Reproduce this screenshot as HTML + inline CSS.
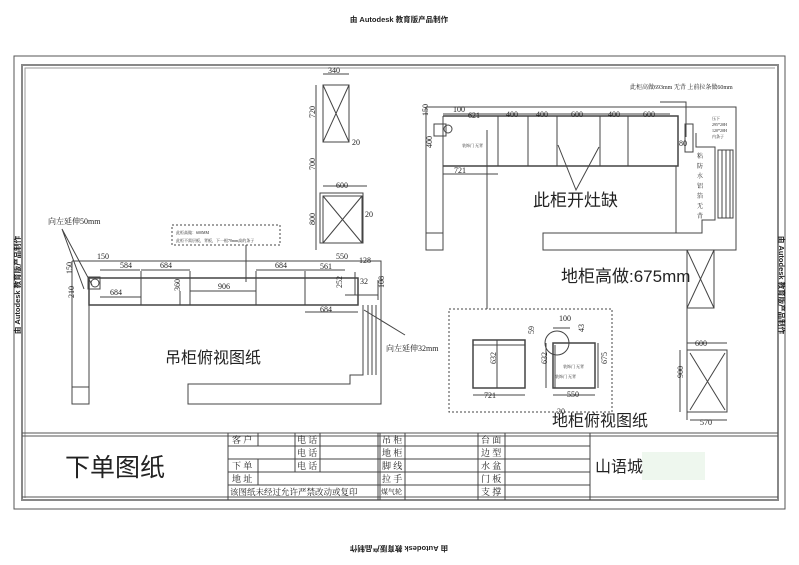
<!DOCTYPE html>
<html><head><meta charset="utf-8"><style>
html,body{margin:0;padding:0;background:#fff}
svg{display:block}
text{font-family:"Liberation Serif","Noto Serif CJK SC",serif;fill:#222}
.s{font-family:"Liberation Sans","Noto Sans CJK SC",sans-serif}
</style></head><body>
<svg width="799" height="565" viewBox="0 0 799 565" xmlns="http://www.w3.org/2000/svg">
<g fill="none" stroke="#444" stroke-width="1">
<path d="M14 509 V56 H785 V509 Z" stroke="#555"/>
<path d="M22 500 V65 H778 V500 Z" stroke="#888" stroke-width="2"/>
<path d="M25 498 V68 H775" stroke="#999"/>
<path d="M22 433 H778 M22 436 H778 M22 497 H778" stroke="#555"/>
<path d="M228 433 V500 M380 433 V500 M378 433 V500 M590 433 V500"/>
<path d="M228 446 H590 M228 459 H590 M228 472 H590 M228 485 H590"/>
<path d="M258 433 V446 M258 459 V485 M295 433 V472 M320 433 V472 M405 433 V500 M478 433 V500 M505 433 V500"/>
</g>
<rect x="642" y="452" width="63" height="28" fill="#eef7ee"/>
<g fill="none" stroke="#444" stroke-width="1">
<rect x="323" y="85" width="26" height="57"/><path d="M323 85 L349 142 M349 85 L323 142"/>
<path d="M316 85 V250 M323 74 H349"/>
<rect x="320" y="193" width="43" height="50"/><rect x="323" y="196" width="39" height="47"/><path d="M323 196 L362 243 M362 196 L323 243"/>
<path d="M323 186 H367"/>
<path d="M72 261 H381 V404 H188 V384 H350 V375 H363 V305 M72 261 V404 H89 V305 M72 387 H89"/>
<path d="M89 278 H358 V305 H89 Z" stroke-width="1.5"/>
<path d="M141 271 V305 M190 271 V305 M256 271 V305 M305 271 V305"/>
<path d="M368 305 V375 M372 305 V375 M376 305 V375"/>
<circle cx="95" cy="283" r="4"/>
<rect x="88" y="277" width="12" height="12"/>
<path d="M100 270 H140 M100 297 H141 M141 270 H190 M190 291 H256 M256 270 H305 M305 270 H345 M305 312 H358 M180 291 V305 M355 272 V295 M345 295 H378 M378 280 V300"/>
<rect x="172" y="225" width="108" height="20" stroke-dasharray="2 2"/>
<path d="M246 245 V282 M62 229 L92 285 M62 229 L84 289 M364 310 L405 335"/>
</g>
<g font-size="8">
<text x="328" y="73">340</text><text x="311" y="122" transform="rotate(-90 311 118)">720</text>
<text x="307" y="170" transform="rotate(-90 311 166)">700</text><text x="336" y="188">600</text>
<text x="365" y="217">20</text><text x="352" y="145">20</text>
<text x="307" y="225" transform="rotate(-90 311 221)">800</text>
<text x="336" y="259">550</text><text x="97" y="259">150</text><text x="120" y="268">584</text>
<text x="160" y="268">684</text><text x="110" y="295">684</text><text x="218" y="289">906</text>
<text x="275" y="268">684</text><text x="320" y="269">561</text><text x="320" y="312">684</text>
<text x="359" y="263">128</text><text x="360" y="284">32</text>
<text x="68" y="278" transform="rotate(-90 68 274)">150</text>
<text x="66" y="298" transform="rotate(-90 70 294)">210</text>
<text x="176" y="295" transform="rotate(-90 176 291)">360</text>
<text x="338" y="292" transform="rotate(-90 338 288)">252</text>
<text x="380" y="292" transform="rotate(-90 380 288)">108</text>
<text x="48" y="224">向左延伸50mm</text><text x="386" y="351">向左延伸32mm</text>
<text x="176" y="234" font-size="4">此柜高做：600MM</text>
<text x="176" y="242" font-size="4">此柜不需层板，背板，下一根70mm高的条子</text>
</g>
<text class="s" x="165" y="363" font-size="16">吊柜俯视图纸</text>
<g fill="none" stroke="#444" stroke-width="1">
<path d="M426 107 H736 V250 H543 V233 H676 V166 M426 107 V250 H443 V116 M426 233 H443"/>
<path d="M443 116 H678 V166 H443" stroke-width="1.5"/>
<path d="M498 116 V166 M528 116 V166 M557 116 V166 M600 116 V166 M628 116 V166"/>
<path d="M676 166 V233 H702 V220 H715 V147 H696 V133 M718 150 V218 H733 V150 Z M722 150 V218 M726 150 V218 M730 150 V218"/>
<rect x="685" y="124" width="8" height="28"/>
<circle cx="448" cy="129" r="4"/><rect x="434" y="124" width="12" height="12"/>
<path d="M443 114 H670 M443 174 H498 M487 130 V309 M558 145 L576 190 L599 147 M660 102 H686 V137"/>
<rect x="687" y="250" width="27" height="58"/><path d="M687 250 L714 308 M714 250 L687 308 M687 308 V420"/>
<rect x="687" y="350" width="40" height="62"/><path d="M690 353 L725 410 M725 353 L690 410 M687 343 H727 M690 420 H727 M680 350 V412"/>
<rect x="449" y="309" width="163" height="103" stroke-dasharray="2 2"/>
<rect x="473" y="340" width="52" height="48" stroke-width="1.5"/><path d="M497 340 V388 M473 345 H525 M473 395 H525"/>
<rect x="553" y="343" width="42" height="45" stroke-width="1.5"/><circle cx="557" cy="343" r="12"/>
<path d="M555 345 V388 M598 343 V388 M553 395 H595 M546 343 V388 M553 328 H570"/>
</g>
<g font-size="8">
<text x="453" y="112">100</text><text x="468" y="118">621</text><text x="506" y="117">400</text>
<text x="536" y="117">400</text><text x="571" y="117">600</text><text x="608" y="117">400</text>
<text x="643" y="117">600</text><text x="454" y="173">721</text><text x="679" y="146">80</text>
<text x="424" y="120" transform="rotate(-90 424 116)">150</text>
<text x="428" y="152" transform="rotate(-90 428 148)">400</text>
<text x="559" y="321">100</text><text x="484" y="398">721</text><text x="567" y="397">550</text>
<text x="557" y="414">20</text><text x="695" y="346">600</text><text x="700" y="425">570</text>
<text x="679" y="382" transform="rotate(-90 679 378)">900</text>
<text x="492" y="368" transform="rotate(-90 492 364)">632</text>
<text x="543" y="368" transform="rotate(-90 543 364)">632</text>
<text x="603" y="368" transform="rotate(-90 603 364)">675</text>
<text x="530" y="338" transform="rotate(-90 530 334)">59</text>
<text x="580" y="336" transform="rotate(-90 580 332)">43</text>
<text x="630" y="89" font-size="6">此柜高做693mm 无背 上前拉条做60mm</text>
<text x="462" y="147" font-size="4">装饰门 无背</text><text x="563" y="368" font-size="4">装饰门 无背</text>
<text x="555" y="378" font-size="4">装饰门 无背</text>
<text x="712" y="120" font-size="4">压下</text><text x="712" y="126" font-size="4">295*20H</text>
<text x="712" y="132" font-size="4">120*20H</text><text x="712" y="138" font-size="4">内条子</text>
</g>
<g font-size="6"><text x="697" y="158">粘</text><text x="697" y="168">防</text><text x="697" y="178">水</text><text x="697" y="188">铝</text><text x="697" y="198">箔</text><text x="697" y="208">无</text><text x="697" y="218">背</text></g>
<text class="s" x="533" y="206" font-size="17">此柜开灶缺</text>
<text class="s" x="561" y="282" font-size="17">地柜高做:675mm</text>
<text class="s" x="552" y="426" font-size="16">地柜俯视图纸</text>
<text class="s" x="65" y="476" font-size="25">下单图纸</text>
<text class="s" x="595" y="472" font-size="16">山语城</text>
<g font-size="9" fill="#666">
<text x="232" y="443">客 户</text><text x="297" y="443">电 话</text><text x="297" y="456">电 话</text>
<text x="232" y="469">下 单</text><text x="297" y="469">电 话</text><text x="232" y="482">地 址</text>
<text x="230" y="495" font-size="8.5">该图纸未经过允许严禁改动或复印</text>
<text x="382" y="443">吊 柜</text><text x="382" y="456">地 柜</text><text x="382" y="469">脚 线</text>
<text x="382" y="482">拉 手</text><text x="381" y="494" font-size="7">煤气轮</text>
<text x="481" y="443">台 面</text><text x="481" y="456">边 型</text><text x="481" y="469">水 盆</text>
<text x="481" y="482">门 板</text><text x="481" y="495" fill="#222">支 撑</text>
</g>
<g class="s" font-size="7.5" font-weight="bold">
<text x="399" y="22" text-anchor="middle" class="s">由 Autodesk 教育版产品制作</text>
<text x="399" y="546" text-anchor="middle" class="s" transform="rotate(180 399 546)">由 Autodesk 教育版产品制作</text>
<text x="20" y="285" text-anchor="middle" class="s" transform="rotate(-90 20 285)">由 Autodesk 教育版产品制作</text>
<text x="779" y="285" text-anchor="middle" class="s" transform="rotate(90 779 285)">由 Autodesk 教育版产品制作</text>
</g>
</svg>
</body></html>
